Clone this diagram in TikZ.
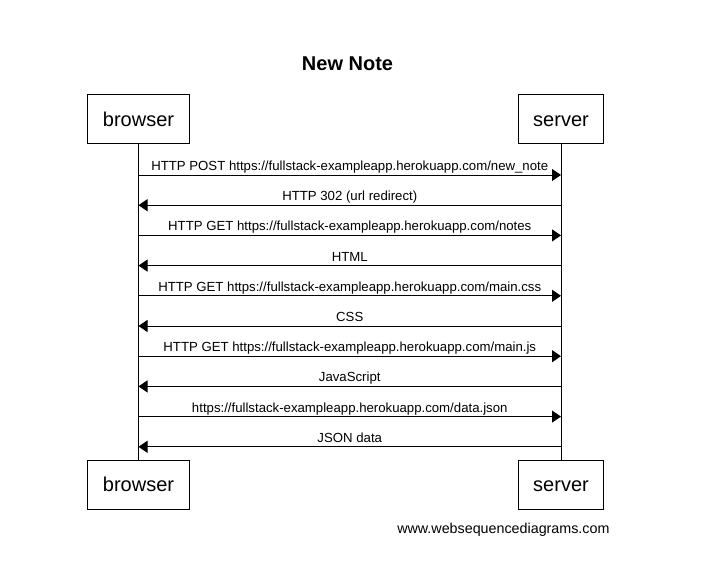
\documentclass[tikz,border=0pt]{standalone}
\usepackage{fontspec}
\setmainfont{Liberation Sans}
\usetikzlibrary{arrows.meta}

\begin{document}
\begin{tikzpicture}
[x=1pt, y=-1pt, line width=1pt,
 actor/.style ={rectangle, draw, fill=white, inner xsep=15pt, minimum height=49pt, text height=14.5pt, text depth=0.5pt, font=\fontsize{20}{24}\selectfont},
 msg/.style ={draw, -{Triangle[length=9pt,width=12pt]}},
 lbl/.style ={anchor=base, inner sep=0pt, yshift=4.5pt, font=\fontsize{13.2}{15}\selectfont},
 life/.style ={draw}]
\useasboundingbox (0,0) rectangle (715,581);
\node[font=\bfseries\fontsize{20}{24}\selectfont] (title) at (347.5,64) {New Note};
\path (138.5,119) node[actor] (B) {browser}
      (561,119) node[actor] (S) {server}
      (138.5,484.5) node[actor] (B2) {browser}
      (561,484.5) node[actor] (S2) {server};
\draw[life] (B.south) -- (B2.north);
\draw[life] (S.south) -- (S2.north);
\foreach \i/\y in {1/175,2/205.2,3/235.4,4/265.6,5/295.8,6/326,7/356.2,8/386.4,9/416.6,10/446.8}
{
  \coordinate (b\i) at (138.5,\y);
  \coordinate (s\i) at (561,\y);
}
\draw[msg] (b1) -- node[lbl] {HTTP POST https://fullstack-exampleapp.herokuapp.com/new\_note} (s1);
\draw[msg] (s2) -- node[lbl] {HTTP 302 (url redirect)} (b2);
\draw[msg] (b3) -- node[lbl] {HTTP GET https://fullstack-exampleapp.herokuapp.com/notes} (s3);
\draw[msg] (s4) -- node[lbl] {HTML} (b4);
\draw[msg] (b5) -- node[lbl] {HTTP GET https://fullstack-exampleapp.herokuapp.com/main.css} (s5);
\draw[msg] (s6) -- node[lbl] {CSS} (b6);
\draw[msg] (b7) -- node[lbl] {HTTP GET https://fullstack-exampleapp.herokuapp.com/main.js} (s7);
\draw[msg] (s8) -- node[lbl] {JavaScript} (b8);
\draw[msg] (b9) -- node[lbl] {https://fullstack-exampleapp.herokuapp.com/data.json} (s9);
\draw[msg] (s10) -- node[lbl] {JSON data} (b10);
\node[anchor=east, inner sep=0pt, font=\fontsize{14.3}{17}\selectfont] (wsd) at (610,529.5) {www.websequencediagrams.com};
\end{tikzpicture}
\end{document}
